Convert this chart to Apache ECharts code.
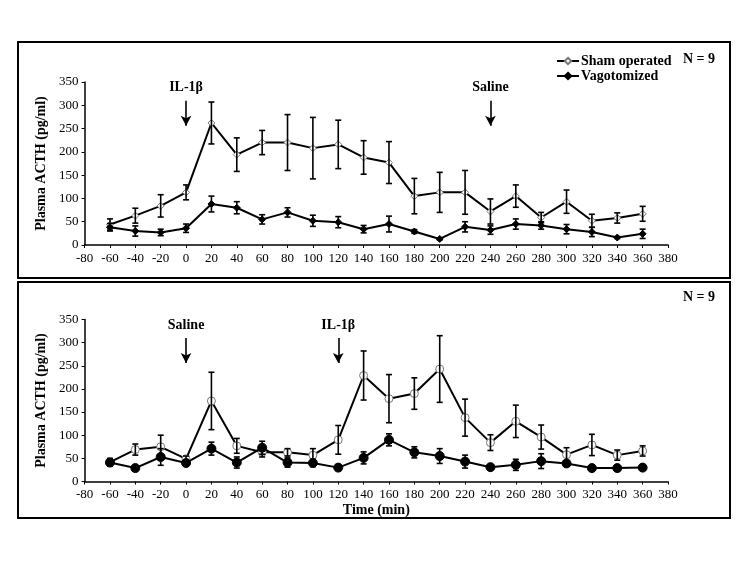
<!DOCTYPE html>
<html><head><meta charset="utf-8">
<script src="https://cdn.jsdelivr.net/npm/echarts@6/dist/echarts.min.js"></script>
<style>html,body{margin:0;padding:0;background:#fff}#c{width:750px;height:563px}</style>
</head><body><div id="c"></div>
<script>
const times = [-60,-40,-20,0,20,40,60,80,100,120,140,160,180,200,220,240,260,280,300,320,340,360];
const xTicks = {min:-80, max:380, interval:20};
const yTicks = {min:0, max:350, interval:50};
// Top panel (IL-1β at 0, Saline at 240)
const topSham    = [44,63,84,113,262,194,220,220,208,216,188,177,105,113,113,72,105,59,93,52,58,67];
const topShamErr = [12,16,24,16,45,36,26,60,66,52,36,45,38,43,47,27,24,11,25,14,11,16];
const topVago    = [38,30,27,36,88,80,55,70,52,49,34,45,29,13,39,32,45,42,34,28,16,24];
const topVagoErr = [8,11,7,9,17,13,10,10,12,12,8,17,4,2,11,9,11,8,10,10,2,10];
// Bottom panel (Saline at 0, IL-1β at 120)
const botSham    = [42,69,75,49,174,77,63,63,57,90,229,179,190,243,138,84,130,96,58,79,57,66];
const botShamErr = [8,12,25,6,62,16,10,8,14,31,53,52,34,72,40,17,35,26,15,23,11,11];
const botVago    = [41,29,53,40,71,41,73,41,40,30,51,90,63,55,43,31,36,44,39,29,29,30];
const botVagoErr = [8,4,18,6,14,12,14,10,8,6,13,13,12,16,14,3,12,16,6,5,3,5];
const seriesNames = ['Sham operated','Vagotomized'];
const topArrows = [{x:0, label:'IL-1β'},{x:240, label:'Saline'}];
const botArrows = [{x:0, label:'Saline'},{x:120, label:'IL-1β'}];

const FONT = 'Liberation Serif';
const chart = echarts.init(document.getElementById('c'));

function errSeries(idx, vals, errs){
  return {
    type:'custom', xAxisIndex:idx, yAxisIndex:idx, z:3, silent:true,
    data: times.map((t,i)=>[t, vals[i], errs[i]]),
    encode:{x:0,y:1},
    renderItem:function(params, api){
      const x=api.value(0), y=api.value(1), e=api.value(2);
      const t=api.coord([x,y+e]), b=api.coord([x,y-e]);
      const w=3;
      const st={stroke:'#000', lineWidth:1.6};
      return {type:'group', children:[
        {type:'line', shape:{x1:t[0],y1:t[1],x2:b[0],y2:b[1]}, style:st},
        {type:'line', shape:{x1:t[0]-w,y1:t[1],x2:t[0]+w,y2:t[1]}, style:st},
        {type:'line', shape:{x1:b[0]-w,y1:b[1],x2:b[0]+w,y2:b[1]}, style:st}
      ]};
    }
  };
}
function arrowMark(arrows){
  return {
    silent:true, symbol:['none','arrow'], symbolSize:[8,10],
    lineStyle:{color:'#000', width:1.6, type:'solid'},
    label:{show:true, position:'start', color:'#000', fontFamily:FONT, fontWeight:'bold', fontSize:14, distance:6},
    emphasis:{disabled:true},
    data: arrows.map(a=>[{coord:[a.x,310], name:a.label, label:{formatter:a.label}},{coord:[a.x,256]}])
  };
}
function lineSeries(idx, name, vals, symbol, size, fill, border, arrows){
  const s = {
    name:name, type:'line', xAxisIndex:idx, yAxisIndex:idx, z:2,
    data: times.map((t,i)=>[t, vals[i]]),
    symbol:symbol, symbolSize:size, showSymbol:true,
    lineStyle:{color:'#000', width:2},
    itemStyle:{color:fill, borderColor:border, borderWidth:1},
    animation:false
  };
  if(arrows) s.markLine = arrowMark(arrows);
  return s;
}
function xAxis(idx, withName){
  const a = {
    type:'value', gridIndex:idx, min:xTicks.min, max:xTicks.max, interval:xTicks.interval,
    axisLine:{onZero:false, lineStyle:{color:'#000', width:1.5}},
    axisTick:{show:true, length:3, lineStyle:{color:'#000'}},
    axisLabel:{color:'#000', fontFamily:FONT, fontSize:13, margin:7, showMinLabel:true, showMaxLabel:true},
    splitLine:{show:false}
  };
  if(withName){
    a.name='Time (min)'; a.nameLocation='middle'; a.nameGap=22;
    a.nameTextStyle={color:'#000', fontFamily:FONT, fontWeight:'bold', fontSize:14};
  }
  return a;
}
function yAxis(idx){
  return {
    type:'value', gridIndex:idx, min:yTicks.min, max:yTicks.max, interval:yTicks.interval,
    name:'Plasma ACTH (pg/ml)', nameLocation:'middle', nameGap:34, nameRotate:90,
    nameTextStyle:{color:'#000', fontFamily:FONT, fontWeight:'bold', fontSize:14},
    axisLine:{show:true, onZero:false, lineStyle:{color:'#000', width:1.5}},
    axisTick:{show:true, length:3, lineStyle:{color:'#000'}},
    axisLabel:{color:'#000', fontFamily:FONT, fontSize:13, margin:6},
    splitLine:{show:false}
  };
}

chart.setOption({
  animation:false,
  backgroundColor:'#fff',
  graphic:[
    {type:'rect', shape:{x:18,y:42,width:712,height:236}, style:{fill:'none', stroke:'#000', lineWidth:2}, z:-1},
    {type:'rect', shape:{x:18,y:282,width:712,height:236}, style:{fill:'none', stroke:'#000', lineWidth:2}, z:-1},
    {type:'text', left:683, top:52, style:{text:'N = 9', fill:'#000', font:'bold 14px "Liberation Serif"'}},
    {type:'text', left:683, top:290, style:{text:'N = 9', fill:'#000', font:'bold 14px "Liberation Serif"'}}
  ],
  legend:{
    data:seriesNames, orient:'vertical', left:551, top:49, itemGap:1, itemWidth:22, itemHeight:8,
    textStyle:{color:'#000', fontFamily:FONT, fontWeight:'bold', fontSize:14, padding:[0,0,0,-3]},
    selectedMode:false
  },
  grid:[
    {left:84.6, right:82, top:82, height:163},
    {left:84.6, right:82, top:319.5, height:162}
  ],
  xAxis:[xAxis(0,false), xAxis(1,true)],
  yAxis:[yAxis(0), yAxis(1)],
  series:[
    lineSeries(0, seriesNames[0], topSham, 'diamond', 7, '#fff', '#777', topArrows),
    lineSeries(0, seriesNames[1], topVago, 'diamond', 7, '#000', '#000'),
    errSeries(0, topSham, topShamErr),
    errSeries(0, topVago, topVagoErr),
    lineSeries(1, seriesNames[0], botSham, 'circle', 8, '#fff', '#777', botArrows),
    lineSeries(1, seriesNames[1], botVago, 'circle', 9, '#000', '#000'),
    errSeries(1, botSham, botShamErr),
    errSeries(1, botVago, botVagoErr)
  ]
});
</script></body></html>
